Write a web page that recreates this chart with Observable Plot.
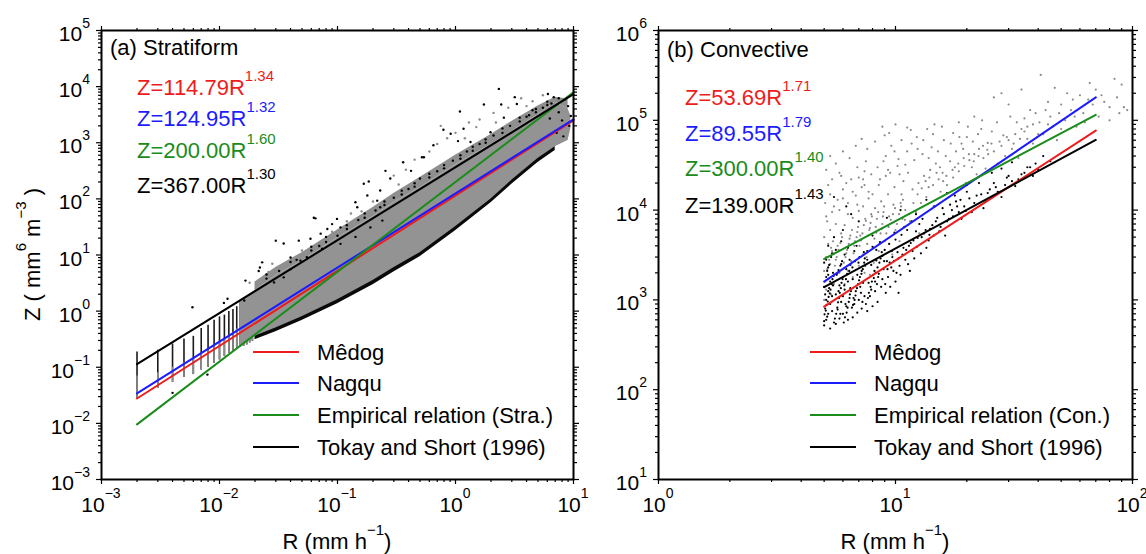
<!DOCTYPE html>
<html><head><meta charset="utf-8">
<script src="https://cdn.jsdelivr.net/npm/d3@7"></script>
<script src="https://cdn.jsdelivr.net/npm/@observablehq/plot@0.6"></script>
<style>
body{margin:0;background:#fff;}
#wrap{position:relative;width:1146px;height:554px;overflow:hidden;background:#fff;}
#wrap svg{position:absolute;top:0;}
</style></head><body><div id="wrap"></div>
<script>
const FONT = "'Liberation Sans', Arial, Helvetica, sans-serif";

// ---------- shared legend / fits ----------
const fitColors = ["#ee1c1c", "#1c1cff", "#1a8c1a", "#000000"];
const stratNames = ["Mêdog", "Nagqu", "Empirical relation (Stra.)", "Tokay and Short (1996)"];
const convNames = ["Mêdog", "Nagqu", "Empirical relation (Con.)", "Tokay and Short (1996)"];

// Z = a R^b
const stratA = [114.79, 124.95, 200.00, 367.00];
const stratB = [1.34, 1.32, 1.60, 1.30];
const stratRRange = [0.002, 10];
const convA = [53.69, 89.55, 300.00, 139.00];
const convB = [1.71, 1.79, 1.40, 1.43];
const convRRange = [5, 70];

// axis decades (tick labels 10^e)
const stratXExp = [-3, -2, -1, 0, 1];
const stratYExp = [-3, -2, -1, 0, 1, 2, 3, 4, 5];
const convXExp = [0, 1, 2];
const convYExp = [1, 2, 3, 4, 5, 6];

// ---------- (a) stratiform scatter ----------
const stratBandR    = [0.015, 0.02, 0.03, 0.05, 0.1, 0.2, 0.3, 0.5, 1, 2, 3, 5, 7, 9, 9.5];
const stratBandLow  = [0.24, 0.355, 0.5, 0.79, 1.6, 3.5, 5.9, 11, 32, 100, 214, 525, 850, 1100, 1800];
const stratBandHigh = [1.55, 2.3, 4.3, 7.8, 20, 48, 85, 158, 400, 930, 1580, 3160, 5250, 4000, 3000];

const stratLowFringeR    = [0.02, 0.03, 0.05, 0.1, 0.2, 0.3, 0.5, 1, 2, 3, 5, 7];
const stratLowFringeLow  = [0.31, 0.43, 0.68, 1.36, 2.95, 5.0, 9.3, 27, 85, 182, 445, 730];
const stratLowFringeHigh = [0.4, 0.56, 0.9, 1.8, 4, 6.6, 12.5, 36, 112, 240, 590, 950];

const stratUpFringeR    = [0.02, 0.03, 0.05, 0.1, 0.2, 0.3, 0.5, 1, 2, 3, 5, 7, 9];
const stratUpFringeLow  = [2.3, 4.3, 7.8, 20, 48, 85, 158, 400, 930, 1580, 3160, 5250, 4000];
const stratUpFringeHigh = [3.3, 6, 11, 28, 70, 125, 240, 600, 1400, 2400, 4500, 6500, 6000];

const stratStripeR       = [0.002, 0.003, 0.004, 0.005, 0.006, 0.007, 0.008, 0.009, 0.010, 0.011, 0.012, 0.013, 0.014, 0.015, 0.016, 0.017, 0.018, 0.019];
const stratStripeTop     = [0.186, 0.2, 0.26, 0.32, 0.355, 0.49, 0.56, 0.69, 0.79, 0.85, 0.98, 1.07, 1.2, 1.45, 1.6, 1.75, 1.85, 2.0];
const stratStripeGrayTop = [0.07, 0.08, 0.1, 0.12, 0.14, 0.17, 0.2, 0.24, 0.28, 0.32, 0.37, 0.42, 0.48, 0.55, 0.62, 0.7, 0.78, 0.86];
const stratStripeBottom  = [0.028, 0.042, 0.054, 0.066, 0.074, 0.089, 0.1, 0.117, 0.135, 0.155, 0.178, 0.195, 0.22, 0.225, 0.235, 0.25, 0.27, 0.29];

const stratBlackPts = [[0.255,316],[0.184,204],[0.167,186],[0.179,115],[0.142,87],[0.147,71],[0.063,46],[0.099,44],[0.09,35.5],[0.106,31],[0.082,29],[0.03,18],[0.035,16],[0.047,18],[0.059,19.5],[0.072,24],[0.022,6],[0.0215,5.2],[0.023,7.4],[0.0166,3.5],[0.035,4],[0.029,3.25],[0.04,5.6],[0.0486,7.9],[0.055,9.1],[0.074,12.9],[0.106,15.8],[0.142,21],[0.19,31],[0.24,41],[0.23,71],[0.217,93],[0.0059,1.17],[0.0117,1.66],[0.0109,1.4],[0.0162,1.55],[0.0079,0.074],[0.004,0.035],[2.33,9100],[3.18,6500],[2.44,4800],[1.74,4800],[1.09,3600],[0.79,1700],[0.91,1450],[0.65,900],[0.36,450],[0.42,316],[0.54,550],[0.28,230],[0.23,141],[1.17,1780],[1.34,1030],[1.98,1540],[2.57,2800],[3.31,4900],[6.07,7400],[6.3,2700],[0.065,45],[0.52,550],[1.05,1070],[6.5,5000],[7.5,3500],[8,2500],[8.5,6000],[9,4500],[9.5,3000],[6.8,6500],[5.5,4200],[4.5,3800],[4,2900],[7.2,1500],[8.2,1300],[9.2,2000],
[0.025,3.8],[0.025,4.5],[0.04,7.5],[0.04,9],[0.06,12],[0.06,14],[0.08,17],[0.08,21],[0.12,29],[0.12,34],[0.17,46],[0.17,55],[0.25,78],[0.25,90],[0.35,120],[0.35,140],[0.45,165],[0.45,190],[0.6,240],[0.6,280],[0.8,350],[0.8,400],[1.1,520],[1.1,600],[1.4,720],[1.4,850],[1.8,1000],[1.8,1150],[2.5,1500],[2.5,1800],[3.5,2400],[3.5,2800],[4.8,3500],[4.8,4000],[6,4700],[6,5400],[7.5,6200],
[0.3,105],[0.4,150],[0.5,230],[0.7,310],[0.95,480],[1.25,700],[1.6,950],[2.1,1350],[2.9,2000],[4.2,3100],[0.15,42],[0.21,62],[0.032,5.2],[0.045,8.2],[0.07,14.5],[0.1,22]];
const stratGrayPts = [[0.3,260],[0.45,500],[0.6,700],[0.85,1200],[1.3,2300],[1.6,2600],[2.1,3400],[2.8,4200],[3.6,6200],[4.5,5500],[5.5,7000],[0.12,40],[0.16,60],[0.09,26],[0.05,12],[0.07,16],[0.2,90],[0.38,330],[0.7,950],[1.0,1500],[1.5,1900],[2.2,2300],[0.026,5],[0.018,3.2],[0.33,180],[0.13,55],[0.028,7],[0.75,2000],[1.2,1200],[4,4500]];

// ---------- (b) convective scatter ----------
const convBlackPts = [[5.0,520],[5.1,600],[5.2,700],[5.05,800],[5.3,900],[5.1,1000],[5.4,1100],[5.2,1250],[5.0,1400],[5.3,1600],[5.1,1800],[5.45,2000],[5.2,2300],[5.0,2600],[5.35,3000],[5.15,650],[5.4,750],[5.25,1350],[5.5,560],[5.05,1150],[5.3,480],[5.45,1450],[5.2,1900],
[5.6,540],[5.8,620],[6.0,700],[5.7,780],[6.2,850],[5.9,950],[6.4,1050],[5.6,1150],[6.1,1300],[5.8,1450],[6.3,1600],[6.0,1800],[5.7,2000],[6.2,2200],[5.9,2500],[6.4,2800],[6.1,3200],[5.6,3600],[6.3,600],[6.0,1100],[5.75,1250],[6.45,1350],[6.15,900],[5.85,700],
[6.6,640],[6.9,720],[7.2,800],[6.7,900],[7.0,1000],[7.4,1100],[6.8,1250],[7.1,1400],[7.3,1550],[6.6,1700],[6.9,1900],[7.2,2100],[7.45,2400],[6.75,2700],[7.05,3000],[7.35,3400],[6.85,4000],[7.15,1200],[6.65,1050],[7.25,950],
[7.6,750],[8.0,850],[8.4,950],[7.8,1100],[8.2,1250],[8.7,1400],[7.7,1550],[8.1,1750],[8.5,1950],[8.9,2200],[7.9,2450],[8.3,2750],[8.8,3100],[7.6,3500],[8.0,3900],[8.6,4400],[8.2,1600],[7.9,1300],[8.8,1700],[8.4,2300],
[9.1,1200],[9.5,1400],[10.0,1600],[9.3,1800],[9.8,2100],[10.4,2400],[9.2,2700],[9.7,3000],[10.2,3400],[10.8,3800],[9.4,4200],[10.0,4700],[10.6,5300],[9.6,2300],[10.5,1900],[11.0,2800],[9.0,3600],[10.3,1200],
[11.3,2500],[12.0,2900],[12.8,3300],[13.5,3800],[11.6,4300],[12.4,4900],[13.2,5500],[14.0,6200],[11.8,3500],[12.6,7000],[13.8,4600],[14.5,5200],[11.2,6000],[12.2,5800],[13.0,8000],[14.8,7500],[11.5,2100],
[15.5,6500],[16.5,7500],[17.5,8500],[18.5,9500],[15.8,10500],[17.0,11500],[18.0,12500],[19.5,11000],[20.5,13500],[21.5,12000],[16.2,5200],[19.0,8000],[21.0,9500],[17.8,14500],[20.0,16000],
[23,15000],[25,17000],[27,16000],[29,19000],[31,21000],[24,12500],[26,20000],[28,14000],[30,24000],[33,22000],[35,26000],[23.5,10500],[32,18500],
[37,30000],[40,28000],[45,35000],[38,24000],[42,40000],[5.5,14000],[6.2,11000],
[5.0,580],[5.02,690],[5.08,760],[5.12,880],[5.18,960],[5.22,1080],[5.28,1180],[5.32,1300],[5.38,1500],[5.42,1700],[5.48,1850],[5.15,2100],[5.25,2450],[5.1,2800],[5.4,3300],[5.55,620],[5.62,700],[5.68,820],[5.72,940],[5.78,1050],[5.82,1200],[5.88,1350],[5.92,1550],[5.98,1700],[5.65,1900],[5.75,2150],[5.85,2400],[5.95,2700],[6.05,560],[6.12,640],[6.22,720],[6.28,820],[6.35,950],[6.42,1150],[6.48,1250],[6.08,1450],[6.18,1700],[6.25,1950],[6.38,2100],[6.45,2450],[6.55,820],[6.62,880],[6.72,1000],[6.78,1120],[6.88,1350],[6.95,1500],[7.02,1650],[7.08,1800],[7.18,1950],[7.28,2200],[7.38,2600],[7.42,2900],[6.58,2300],[6.98,2600],[7.5,900],[7.65,1050],[7.72,1200],[7.85,1400],[7.95,1600],[8.05,1900],[8.15,2100],[8.25,2000],[8.35,1500],[8.45,1800],[8.55,2600],[8.65,2900],[8.75,3400],[8.95,2700],[9.05,1500],[9.25,2200],[9.45,2600],[9.65,3500],[9.85,2700],[10.1,2000],[10.3,2900],[10.7,3200],[11.1,3600],[11.4,4000],[11.9,4600],[12.3,3900],[12.9,5000],[13.4,6000],[13.9,5300],[14.3,6800],[15.0,8200],[15.3,5800],[16.0,9000],[16.8,8000],[17.3,10000],[18.2,11000],[18.8,13000],[19.8,9800],[22,14500],[24.5,15500],[26.5,18000],[29.5,23000],[34,25000],[36,30000],[39,33000],[5.5,5000],[5.9,4500],[6.3,3800],[6.7,3500],[7.6,2800],[8.3,3600],[9.9,5600],[10.9,6500],[11.7,7500],[8.0,5200],[5.2,4000],[6.0,6000],[12.2,9000],[14.6,11000],[13.5,13000],[16.5,15500],[22.5,20000],[25.5,26000],[20,19000],[28,29000],[31,34000],[6.5,9000],[7.0,7500],[9.2,8200],[10.5,10000]];
const convGrayPts = [[5.0,1000],[5.1,1300],[5.2,1700],[5.0,2100],[5.3,2500],[5.1,3000],[5.4,3500],[5.2,4200],[5.0,5000],[5.3,6000],[5.15,7500],[5.4,9500],[5.05,12000],[5.3,15000],[5.2,19000],[5.5,1500],[5.6,2800],[5.8,2000],[5.7,4000],[5.9,5500],[5.6,7000],[5.8,10000],[5.7,13000],[6.0,17000],[5.9,24000],[5.5,3300],[5.35,1150],
[6.1,1500],[6.3,2100],[6.5,2700],[6.2,3300],[6.7,4000],[6.4,4800],[6.9,5700],[6.1,6800],[6.6,8200],[7.0,9800],[6.3,12000],[6.8,14500],[7.2,18000],[6.5,22000],[7.4,27000],[7.0,2400],[7.3,3200],[7.6,4200],[7.1,5200],[7.8,6300],[7.5,7600],[7.9,9000],[7.3,11000],[7.7,13500],[7.5,35000],[6.9,30000],[7.8,1900],[6.6,1800],[7.4,2000],
[8.1,2600],[8.5,3500],[9.0,4500],[8.3,5600],[8.8,7000],[9.4,8500],[8.2,10500],[8.7,12500],[9.3,15000],[9.9,18000],[8.6,22000],[9.5,26000],[10.2,31000],[9.1,40000],[9.6,52000],[10.3,37000],[10.8,21000],[10.5,12000],[10.0,6000],[10.7,8000],[9.7,3200],[10.4,4500],[11.0,10000],[8.9,9500],[9.8,11500],[10.6,15000],[8.0,15000],[11.2,83000],[11.6,78000],[9.0,68000],
[11.5,7500],[12.2,9500],[12.8,12000],[13.5,14000],[11.8,17000],[12.5,20000],[13.2,24000],[14.0,28000],[14.8,33000],[12.0,36000],[13.0,42000],[14.2,50000],[15.2,22000],[15.8,26000],[13.8,18000],[12.6,5500],[14.5,11000],[15.5,16000],[11.3,26000],[16.0,60000],[13.6,80000],[12.3,65000],[14.6,90000],
[16.5,19000],[17.5,23000],[18.5,27000],[19.5,31000],[20.5,36000],[21.5,42000],[22.5,48000],[17.0,35000],[18.0,45000],[19.0,55000],[20.0,65000],[21.0,30000],[23.5,38000],[24.5,56000],[16.8,14000],[19.8,20000],[22.0,25000],[24.0,29000],[18.5,95000],[21.5,110000],[23.0,80000],[17.5,72000],
[26,45000],[28,52000],[30,60000],[32,70000],[34,80000],[36,62000],[38,90000],[27,33000],[29,40000],[31,48000],[33,38000],[35,105000],[37,130000],[39,120000],[26,180000],[30,150000],[34,220000],[28,200000],
[41,320000],[47,230000],[42,70000],[45,110000],[50,150000],[55,130000],[60,190000],[65,170000],[70,220000],[76,160000],[84,290000],[88,120000],[92,140000],[80,100000],[58,85000],[48,60000],[66,260000],[53,200000],[44,160000],[72,110000],[95,130000],
[5.1,28000],[5.3,40000],[5.6,33000],[6.0,45000],[6.4,38000],[6.8,52000],[7.2,62000],[7.6,48000],[8.2,58000],[8.8,85000],[9.4,72000],[10.0,90000],[10.6,60000],[11.2,45000],[5.4,22000],[5.8,26000],[6.2,20000],[6.6,16000],[7.0,23000],[7.4,19000],[7.9,25000],[8.4,30000],[8.9,35000],[9.3,28000],[9.9,45000],[10.4,25000],[11.0,32000],[11.7,55000],[12.4,48000],[13.1,60000],[13.8,38000],[14.4,70000],[15.1,45000],[15.7,85000],[16.3,40000],[17.1,55000],[17.8,30000],[18.6,65000],[19.3,48000],[20.2,85000],[21.2,58000],[22.3,70000],[23.2,100000],[24.6,42000],[25.5,75000],[26.8,95000],[28.5,68000],[30.5,110000],[32.5,95000],[35,75000],[38,55000],[40.5,95000],[43,130000],[46,85000],[49,120000],[52,100000],[56,170000],[62,120000],[68,150000],[74,190000],[80,140000],[86,180000],[90,250000],[63,95000],[57,110000],
[5.05,1600],[5.15,2200],[5.25,2800],[5.35,3800],[5.45,4500],[5.55,2400],[5.65,3000],[5.75,3600],[5.85,4300],[5.95,5000],[6.05,2600],[6.15,3000],[6.25,3600],[6.35,4200],[6.45,5200],[6.55,6000],[6.65,3300],[6.75,4500],[6.85,5000],[6.95,6500],[7.05,4000],[7.15,4600],[7.25,5500],[7.35,6800],[7.45,8000],[7.55,3000],[7.65,5200],[7.75,6000],[7.85,7200],[7.95,8500],[8.05,3800],[8.15,4800],[8.25,6500],[8.35,8000],[8.45,9500],[8.55,4200],[8.65,5500],[8.75,6200],[8.85,8500],[8.95,11000],[9.15,5500],[9.35,6500],[9.55,7800],[9.75,9000],[9.95,10500],[10.15,7000],[10.35,9000],[10.55,11000],[10.75,13000],[10.95,7800],[11.4,9000],[11.9,12000],[12.4,15000],[12.9,17500],[13.4,21000],[13.9,23000],[14.4,19000],[14.9,26000],[15.4,30000],[15.9,21000],[16.4,24000],[17.4,28000],[18.4,33000],[19.4,38000],[20.4,42000],[21.4,35000],[22.4,40000],[23.4,52000],[24.4,47000],[25.4,55000],[27.5,58000],[29.5,65000],[31.5,55000],[33.5,62000],[36,85000],[40,70000],[44,90000],[50,80000],[5.1,8500],[5.5,11000],[6.3,9000],[6.9,11500],[7.7,16000],[8.5,19000],[9.1,24000],[6.0,13500],[7.3,22000]];

// ---------- helpers ----------
function fmtExp(e) { return e < 0 ? "\u2212" + (-e) : String(e); }
function minorTicks(exps) {
  const out = [];
  for (let i = 0; i < exps.length - 1; i++) for (let k = 2; k <= 9; k++) out.push(k * Math.pow(10, exps[i]));
  return out;
}
function fitLines(A, B, range) {
  return A.map((a, i) => Plot.line(range, {x: r => r, y: r => a * Math.pow(r, B[i]), stroke: fitColors[i], strokeWidth: 2}));
}
function axes(xExp, yExp) {
  const xMajor = xExp.map(e => Math.pow(10, e)), yMajor = yExp.map(e => Math.pow(10, e));
  const xMinor = minorTicks(xExp), yMinor = minorTicks(yExp);
  const o = {tickFormat: () => "", label: null, strokeWidth: 1.2};
  const out = [];
  for (const anchor of ["bottom", "top"]) {
    out.push(Plot.axisX({...o, ticks: xMajor, anchor, tickSize: 5}));
    out.push(Plot.axisX({...o, ticks: xMinor, anchor, tickSize: 3}));
  }
  for (const anchor of ["left", "right"]) {
    out.push(Plot.axisY({...o, ticks: yMajor, anchor, tickSize: 5}));
    out.push(Plot.axisY({...o, ticks: yMinor, anchor, tickSize: 3}));
  }
  return out;
}
function sup(sel, base, s, supSize, dy) {
  sel.append("tspan").text(base);
  sel.append("tspan").attr("dy", -dy).attr("font-size", supSize).text(s);
}
function tickLabels(xExp, yExp) {
  return (index, scales, values, dim) => {
    const g = d3.create("svg:g").attr("font-family", FONT).attr("fill", "#000").attr("font-size", 21);
    const yb = dim.height - dim.marginBottom;
    for (const e of xExp) {
      const t = g.append("text").attr("x", scales.x(Math.pow(10, e))).attr("y", yb + 33).attr("text-anchor", "middle");
      sup(t, "10", fmtExp(e), 14, 14);
    }
    for (const e of yExp) {
      const t = g.append("text").attr("x", dim.marginLeft - 11).attr("y", scales.y(Math.pow(10, e)) + 11).attr("text-anchor", "end");
      sup(t, "10", fmtExp(e), 14, 13);
    }
    return g.node();
  };
}
function annotations(title, A, B, names, eqX, eqBase, titleDy) {
  return (index, scales, values, dim) => {
    const g = d3.create("svg:g").attr("font-family", FONT).attr("font-size", 22).attr("text-anchor", "start");
    const x0 = dim.marginLeft, yb = dim.height - dim.marginBottom;
    g.append("text").attr("x", x0 + 9).attr("y", dim.marginTop + titleDy).attr("fill", "#000").text(title);
    A.forEach((a, i) => {
      const t = g.append("text").attr("x", x0 + eqX).attr("y", dim.marginTop + eqBase[i]).attr("fill", fitColors[i]);
      sup(t, "Z=" + a.toFixed(2) + "R", B[i].toFixed(2), 15, 14);
    });
    const rows = [127, 96, 64, 32];
    rows.forEach((off, i) => {
      const y = yb - off;
      g.append("line").attr("x1", x0 + 152).attr("x2", x0 + 198).attr("y1", y).attr("y2", y)
        .attr("stroke", fitColors[i]).attr("stroke-width", 2);
      g.append("text").attr("x", x0 + 216).attr("y", y + 8).attr("fill", "#000").text(names[i]);
    });
    const xt = g.append("text").attr("x", (dim.marginLeft + dim.width - dim.marginRight) / 2).attr("y", 549)
      .attr("text-anchor", "middle").attr("fill", "#000");
    xt.append("tspan").text("R (mm h");
    xt.append("tspan").attr("dy", -14).attr("font-size", 15).text("\u22121");
    xt.append("tspan").attr("dy", 14).text(")");
    return g.node();
  };
}
function yTitle() {
  return (index, scales, values, dim) => {
    const g = d3.create("svg:g").attr("font-family", FONT).attr("font-size", 22);
    const cy = (dim.marginTop + dim.height - dim.marginBottom) / 2;
    const t = g.append("text").attr("transform", `translate(40,${cy}) rotate(-90)`).attr("text-anchor", "middle").attr("fill", "#000");
    t.append("tspan").text("Z ( mm");
    t.append("tspan").attr("dy", -14).attr("font-size", 15).text("6");
    t.append("tspan").attr("dy", 14).text(" m");
    t.append("tspan").attr("dy", -14).attr("font-size", 15).text("\u22123");
    t.append("tspan").attr("dy", 14).text(" )");
    return g.node();
  };
}

const common = {width: 573, height: 554, marginTop: 30, marginBottom: 75,
  style: {background: "transparent", overflow: "visible", fontFamily: FONT, color: "#000"}};

// ---------- panel (a) ----------
const plotA = Plot.plot({
  ...common, marginLeft: 101, marginRight: 0,
  x: {type: "log", domain: [1e-3, 10]},
  y: {type: "log", domain: [1e-3, 1e5]},
  marks: [
    Plot.ruleX(stratStripeR, {x: stratStripeR, y1: stratStripeBottom, y2: stratStripeTop, stroke: "#1a1a1a", strokeWidth: 1.6}),
    Plot.ruleX(stratStripeR, {x: stratStripeR, y1: stratStripeBottom, y2: stratStripeGrayTop, stroke: "#8c8c8c", strokeWidth: 1.6}),
    Plot.areaY(stratLowFringeR, {x: stratLowFringeR, y1: stratLowFringeLow, y2: stratLowFringeHigh, fill: "#0a0a0a"}),
    Plot.areaY(stratUpFringeR, {x: stratUpFringeR, y1: stratUpFringeLow, y2: stratUpFringeHigh, fill: "#444", fillOpacity: 0.6}),
    Plot.areaY(stratBandR, {x: stratBandR, y1: stratBandLow, y2: stratBandHigh, fill: "#939393"}),
    Plot.dot(stratGrayPts, {x: d => d[0], y: d => d[1], r: 1.2, fill: "#8a8a8a"}),
    Plot.dot(stratBlackPts, {x: d => d[0], y: d => d[1], r: 1.2, fill: "#000"}),
    ...fitLines(stratA, stratB, stratRRange),
    Plot.frame({stroke: "#000", strokeWidth: 2}),
    ...axes(stratXExp, stratYExp),
    tickLabels(stratXExp, stratYExp),
    annotations("(a) Stratiform", stratA, stratB, stratNames, 36, [65, 96, 128, 163], 25),
    yTitle()
  ]
});

// ---------- panel (b) ----------
const plotB = Plot.plot({
  ...common, marginLeft: 85, marginRight: 14,
  x: {type: "log", domain: [1, 100]},
  y: {type: "log", domain: [10, 1e6]},
  marks: [
    Plot.dot(convGrayPts, {x: d => d[0], y: d => d[1], r: 1.1, fill: "#8a8a8a"}),
    Plot.dot(convBlackPts, {x: d => d[0], y: d => d[1], r: 1.1, fill: "#000"}),
    ...fitLines(convA, convB, convRRange),
    Plot.frame({stroke: "#000", strokeWidth: 2}),
    ...axes(convXExp, convYExp),
    tickLabels(convXExp, convYExp),
    annotations("(b) Convective", convA, convB, convNames, 27, [75, 111, 146, 183], 27)
  ]
});

const wrap = document.getElementById("wrap");
plotA.style.left = "0px";
plotB.style.left = "573px";
wrap.appendChild(plotA);
wrap.appendChild(plotB);
</script></body></html>
